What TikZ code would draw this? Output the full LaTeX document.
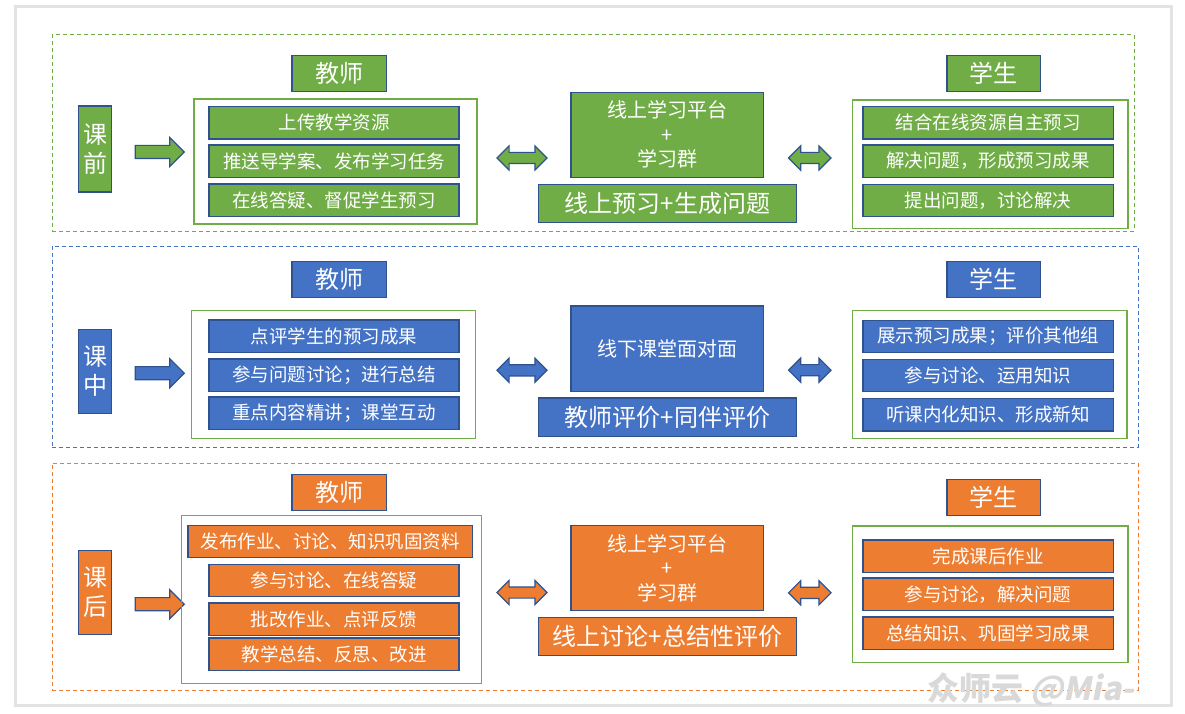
\documentclass[tikz,border=0pt]{standalone}
\usepackage{fontspec}
\setmainfont{Noto Sans CJK SC}
\newfontfamily\wmfont{Noto Sans CJK SC}[FakeSlant=0.2]
\usetikzlibrary{shapes.arrows}
\definecolor{gfill}{HTML}{70AD47}
\definecolor{bfill}{HTML}{4472C4}
\definecolor{ofill}{HTML}{ED7D31}
\definecolor{bord}{HTML}{2F528F}
\definecolor{frm}{HTML}{E3E3E3}
\definecolor{wmcol}{HTML}{D9D9D9}
\tikzset{
  base/.style={draw=bord, line width=1.2pt, fill=#1, text=white, inner sep=0pt, outer sep=0pt},
  tag/.style={base=#1, font=\fontsize{24}{29}\selectfont, align=center},
  item/.style={base=#1, font=\fontsize{18.5}{22}\selectfont, minimum height=32.5pt},
  hub/.style={base=#1, font=\fontsize{20}{24.5}\selectfont, align=center},
  lab/.style={base=#1, font=\fontsize{24}{29}\selectfont, minimum width=258pt},
  holder/.style={draw=gfill, line width=1.3pt, inner sep=0pt},
  zone/.style={draw=#1, line width=1pt, dash pattern=on 4pt off 3pt, inner sep=0pt},
  rarrow/.style={single arrow, draw=bord, fill=#1, line width=1.2pt, inner xsep=0pt, inner ysep=6pt,
    minimum height=49pt, single arrow head extend=8pt},
  darrow/.style={double arrow, draw=bord, fill=#1, line width=1.2pt, inner xsep=0pt, inner ysep=5pt,
    double arrow head extend=6.5pt},
}
\begin{document}
\begin{tikzpicture}[x=1pt,y=-1pt]
\useasboundingbox (0,0) rectangle (1185,714);
\fill[white] (0,0) rectangle (1185,714);
\draw[frm, line width=3pt] (15.5,6.5) rectangle (1171,705.5);

% ---------------- zones
\node[zone=gfill, minimum width=1082pt, minimum height=196pt] (z1) at (593,133) {};
\node[zone=bfill, minimum width=1086pt, minimum height=201.3pt] (z2) at (595,346.7) {};
\node[zone=ofill, minimum width=1086pt, minimum height=227pt] (z3) at (595,576.8) {};

% ---------------- row 1 (课前)
\node[tag=gfill, minimum width=33pt, minimum height=86pt] (k1) at (95.1,149) {课\\前};
\node[rarrow=gfill] (a1) at (156.5,152) {};
\node[tag=gfill, minimum width=94.5pt, minimum height=36.4pt] (T1) at (339.2,73.5) {教师};
\node[holder, minimum width=283pt, minimum height=125pt] (tc1) at (335.5,161.5) {};
\node[item=gfill, minimum width=250pt] (t11) at (334,122.8) {上传教学资源};
\node[item=gfill, minimum width=250pt] (t12) at (334,161.3) {推送导学案、发布学习任务};
\node[item=gfill, minimum width=250pt] (t13) at (334,200.3) {在线答疑、督促学生预习};
\node[darrow=gfill, minimum height=50pt] (d1) at (522,158) {};
\node[hub=gfill, minimum width=192.6pt, minimum height=85pt] (c1) at (667.3,134.8) {线上学习平台\\+\\学习群};
\node[lab=gfill, minimum height=38pt] (l1) at (667.6,203.3) {线上预习+生成问题};
\node[darrow=gfill, minimum height=42.5pt] (d2) at (809.8,158) {};
\node[tag=gfill, minimum width=93.5pt, minimum height=36.4pt] (S1) at (993.8,73.5) {学生};
\node[holder, minimum width=275.6pt, minimum height=128.7pt] (sc1) at (990.2,164.3) {};
\node[item=gfill, minimum width=250.4pt] (s11) at (988.2,122.8) {结合在线资源自主预习};
\node[item=gfill, minimum width=250.4pt] (s12) at (988.2,161.2) {解决问题，形成预习成果};
\node[item=gfill, minimum width=250.4pt] (s13) at (988.2,200.5) {提出问题，讨论解决};

% ---------------- row 2 (课中)
\node[tag=bfill, minimum width=33pt, minimum height=84.4pt] (k2) at (95.1,371.5) {课\\中};
\node[rarrow=bfill] (a2) at (156.5,373.2) {};
\node[tag=bfill, minimum width=94.5pt, minimum height=36.4pt] (T2) at (339.2,279.5) {教师};
\node[holder, minimum width=284.3pt, minimum height=128pt] (tc2) at (333.5,374.3) {};
\node[item=bfill, minimum width=250pt] (t21) at (334,336.3) {点评学生的预习成果};
\node[item=bfill, minimum width=250pt] (t22) at (334,375.3) {参与问题讨论；进行总结};
\node[item=bfill, minimum width=250pt] (t23) at (334,413.3) {重点内容精讲；课堂互动};
\node[darrow=bfill, minimum height=50pt] (d3) at (522,370.3) {};
\node[hub=bfill, minimum width=192.6pt, minimum height=85.7pt] (c2) at (667.3,348.8) {线下课堂面对面};
\node[lab=bfill, minimum height=38.7pt] (l2) at (667.6,417.3) {教师评价+同伴评价};
\node[darrow=bfill, minimum height=42.5pt] (d4) at (809.8,370.2) {};
\node[tag=bfill, minimum width=93.5pt, minimum height=36.4pt] (S2) at (993.8,279.5) {学生};
\node[holder, minimum width=274.6pt, minimum height=128.4pt] (sc2) at (989.7,374.5) {};
\node[item=bfill, minimum width=250.4pt] (s21) at (988.2,336.5) {展示预习成果；评价其他组};
\node[item=bfill, minimum width=250.4pt] (s22) at (988.2,375.5) {参与讨论、运用知识};
\node[item=bfill, minimum width=250.4pt] (s23) at (988.2,414.7) {听课内化知识、形成新知};

% ---------------- row 3 (课后)
\node[tag=ofill, minimum width=33pt, minimum height=84.4pt] (k3) at (95.1,592.5) {课\\后};
\node[rarrow=ofill] (a3) at (156.5,604.2) {};
\node[tag=ofill, minimum width=94.5pt, minimum height=36.4pt] (T3) at (339.2,492.5) {教师};
\node[holder, minimum width=300pt, minimum height=168.4pt] (tc3) at (331.4,599.5) {};
\node[item=ofill, minimum width=284.6pt] (t31) at (330.3,541.5) {发布作业、讨论、知识巩固资料};
\node[item=ofill, minimum width=250pt] (t32) at (334,580.5) {参与讨论、在线答疑};
\node[item=ofill, minimum width=250pt] (t33) at (334,619.3) {批改作业、点评反馈};
\node[item=ofill, minimum width=250pt] (t34) at (334,654.2) {教学总结、反思、改进};
\node[darrow=ofill, minimum height=50pt] (d5) at (522,592.5) {};
\node[hub=ofill, minimum width=192.6pt, minimum height=85.4pt] (c3) at (667.3,568) {线上学习平台\\+\\学习群};
\node[lab=ofill, minimum height=38.4pt] (l3) at (667.6,636.5) {线上讨论+总结性评价};
\node[darrow=ofill, minimum height=42.5pt] (d6) at (809.8,592.8) {};
\node[tag=ofill, minimum width=93.5pt, minimum height=36.4pt] (S3) at (993.8,497.5) {学生};
\node[holder, minimum width=275.6pt, minimum height=136.3pt] (sc3) at (990.2,594.2) {};
\node[item=ofill, minimum width=250.4pt] (s31) at (988.2,556.3) {完成课后作业};
\node[item=ofill, minimum width=250.4pt] (s32) at (988.2,594.3) {参与讨论，解决问题};
\node[item=ofill, minimum width=250.4pt] (s33) at (988.2,633.3) {总结知识、巩固学习成果};

% ---------------- watermark
\node[text=wmcol, font=\fontsize{32}{32}\selectfont\bfseries, inner sep=0pt] (wm) at (1030.5,690) {众师云 {\wmfont\bfseries @Mia-}};
\end{tikzpicture}
\end{document}
